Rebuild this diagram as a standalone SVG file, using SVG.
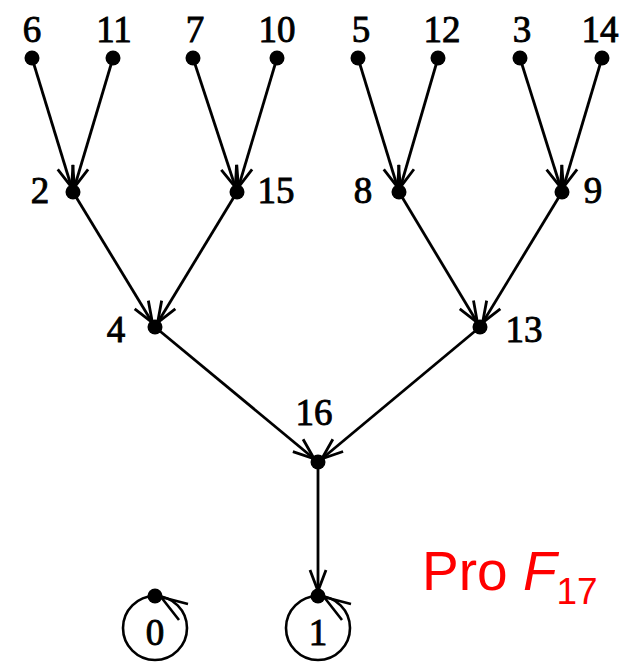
<svg xmlns="http://www.w3.org/2000/svg" width="631" height="666" viewBox="0 0 631 666">
  <style>
    .edge { stroke: #000; stroke-width: 2.8; fill: none; marker-end: url(#arrow); }
    .dot { fill: #000; }
    .lbl { font-family: "Liberation Serif", "Times New Roman", serif; font-size: 37px; fill: #000; stroke: #000; stroke-width: 0.9; text-anchor: middle; }
    .loop { stroke: #000; stroke-width: 2.6; fill: none; }
    .title { font-family: "Liberation Sans", Arial, sans-serif; fill: #ff0000; }
  </style>
  <defs>
    <marker id="arrow" markerUnits="userSpaceOnUse" markerWidth="40" markerHeight="40" viewBox="-25 -12 40 24" refX="5" refY="0" orient="auto" overflow="visible">
      <path d="M -21 -8 L 0 0 L -21 8" stroke="#000" stroke-width="2.8" fill="none"/>
    </marker>
  </defs>

  <g id="connectors">
    <line class="edge" x1="32" y1="58" x2="73" y2="192"/>
    <line class="edge" x1="113" y1="58" x2="73" y2="192"/>
    <line class="edge" x1="193" y1="58" x2="237" y2="192"/>
    <line class="edge" x1="277" y1="58" x2="237" y2="192"/>
    <line class="edge" x1="358" y1="58" x2="399" y2="192"/>
    <line class="edge" x1="438" y1="58" x2="399" y2="192"/>
    <line class="edge" x1="520" y1="58" x2="562" y2="192"/>
    <line class="edge" x1="602" y1="58" x2="562" y2="192"/>
    <line class="edge" x1="73" y1="192" x2="155" y2="327"/>
    <line class="edge" x1="237" y1="192" x2="155" y2="327"/>
    <line class="edge" x1="399" y1="192" x2="480" y2="327"/>
    <line class="edge" x1="562" y1="192" x2="480" y2="327"/>
    <line class="edge" x1="155" y1="327" x2="318" y2="462"/>
    <line class="edge" x1="480" y1="327" x2="318" y2="462"/>
    <line class="edge" x1="318" y1="462" x2="318" y2="596"/>
    <!-- self loops on the fixed points -->
    <circle class="loop" cx="155" cy="628" r="32"/>
    <path class="loop" d="M 188 604 L 161 597 L 179 620"/>
    <circle class="loop" cx="318" cy="628" r="32"/>
    <path class="loop" d="M 351 604 L 324 597 L 342 620"/>
  </g>

  <g id="n6"><circle class="dot" cx="32" cy="58" r="7.5"/><text class="lbl" x="32" y="42">6</text></g>
  <g id="n11"><circle class="dot" cx="113" cy="58" r="7.5"/><text class="lbl" x="114" y="42">11</text></g>
  <g id="n7"><circle class="dot" cx="193" cy="58" r="7.5"/><text class="lbl" x="195" y="42">7</text></g>
  <g id="n10"><circle class="dot" cx="277" cy="58" r="7.5"/><text class="lbl" x="277" y="42">10</text></g>
  <g id="n5"><circle class="dot" cx="358" cy="58" r="7.5"/><text class="lbl" x="361" y="42">5</text></g>
  <g id="n12"><circle class="dot" cx="438" cy="58" r="7.5"/><text class="lbl" x="442" y="42">12</text></g>
  <g id="n3"><circle class="dot" cx="520" cy="58" r="7.5"/><text class="lbl" x="522" y="42">3</text></g>
  <g id="n14"><circle class="dot" cx="602" cy="58" r="7.5"/><text class="lbl" x="600" y="42">14</text></g>

  <g id="n2"><circle class="dot" cx="73" cy="192" r="7.5"/><text class="lbl" x="40" y="203">2</text></g>
  <g id="n15"><circle class="dot" cx="237" cy="192" r="7.5"/><text class="lbl" x="276" y="203">15</text></g>
  <g id="n8"><circle class="dot" cx="399" cy="192" r="7.5"/><text class="lbl" x="363" y="203">8</text></g>
  <g id="n9"><circle class="dot" cx="562" cy="192" r="7.5"/><text class="lbl" x="593" y="203">9</text></g>

  <g id="n4"><circle class="dot" cx="155" cy="327" r="7.5"/><text class="lbl" x="116" y="342">4</text></g>
  <g id="n13"><circle class="dot" cx="480" cy="327" r="7.5"/><text class="lbl" x="524" y="342">13</text></g>

  <g id="n16"><circle class="dot" cx="318" cy="462" r="7.5"/><text class="lbl" x="314" y="425">16</text></g>

  <g id="n0"><circle class="dot" cx="155" cy="596" r="7.5"/><text class="lbl" x="155" y="645">0</text></g>
  <g id="n1"><circle class="dot" cx="318" cy="596" r="7.5"/><text class="lbl" x="318" y="645">1</text></g>

  <text class="title" x="422" y="590" font-size="55">Pro <tspan font-style="italic">F</tspan><tspan font-size="37" dy="14">17</tspan></text>
</svg>
